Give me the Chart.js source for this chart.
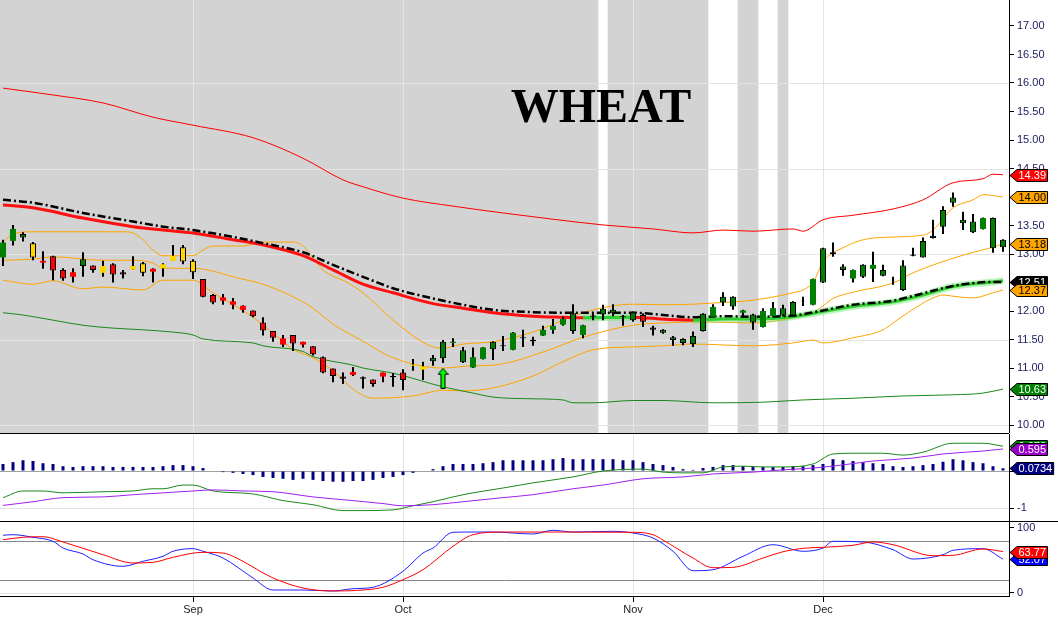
<!DOCTYPE html>
<html>
<head>
<meta charset="utf-8">
<script src="https://cdn.jsdelivr.net/npm/chart.js@4.4.1/dist/chart.umd.min.js"></script>
<style>
  html, body { margin: 0; padding: 0; background: #fff; }
  #wrap { position: relative; width: 1058px; height: 621px; overflow: hidden; }
  canvas { position: absolute; left: 0; }
  .rule { position: absolute; left: 0; height: 1px; background: #000; }
  #title { position: absolute; left: 501px; width: 200px; top: 82px; text-align: center;
           font: bold 48px "Liberation Serif", "Times New Roman", serif; line-height: 48px; color: #000; }
</style>
</head>
<body>
<div id="wrap">
  <canvas id="price" width="1058" height="433" style="top:0"></canvas>
  <canvas id="macd" width="1058" height="87" style="top:434px"></canvas>
  <canvas id="stoch" width="1058" height="99" style="top:522px"></canvas>
  <div class="rule" style="top:433px;width:1009px"></div>
  <div class="rule" style="top:521px;width:1058px"></div>
  <div id="title">WHEAT</div>
</div>
<script>
// x axis: one slot per trading day, 0..100
const months = ['Sep', 'Oct', 'Nov', 'Dec'];
const monthIdx = [19, 40, 63, 82];
const priceTicks = [10, 10.5, 11, 11.5, 12, 12.5, 13, 13.5, 14, 14.5, 15, 15.5, 16, 16.5, 17];
const priceGrid = [10, 11.5, 13, 14.5, 16];
const macdTicks = [-1, 0];
const stochTicks = [0, 100];

// daily candles
const open = [12.94,13.23,13.35,13.19,12.85,12.96,12.72,12.60,12.91,12.80,
  12.67,12.82,12.68,12.73,12.84,12.69,12.75,12.88,13.12,12.88,
  12.56,12.28,12.18,12.11,12.02,12.01,11.80,11.65,11.41,11.58,
  11.41,11.38,11.19,10.99,10.85,10.88,10.84,10.80,10.85,10.86,
  10.92,11.04,10.97,11.18,11.46,11.44,11.31,11.01,11.16,11.46,
  11.40,11.32,11.54,11.49,11.57,11.67,11.76,11.96,11.58,11.92,
  12.04,12.02,11.91,11.98,11.93,11.71,11.67,11.54,11.51,11.56,
  11.95,11.90,12.25,12.25,11.97,11.94,11.72,11.91,12.05,12.16,
  12.18,12.11,13.10,13.03,12.78,12.57,12.81,12.74,12.72,12.55,
  12.80,12.99,13.23,13.32,13.77,13.99,13.60,13.57,13.44,13.63,
  13.25];
const high = [13.25,13.51,13.38,13.21,13.05,12.97,12.75,12.75,13.03,12.80,
  12.88,12.84,12.72,12.96,12.86,12.75,12.84,13.16,13.16,12.91,
  12.56,12.30,12.30,12.23,12.10,12.01,11.89,11.65,11.58,11.58,
  11.46,11.38,11.20,10.99,10.92,11.02,10.85,10.80,10.92,10.91,
  10.98,11.16,11.11,11.23,11.49,11.52,11.37,11.36,11.37,11.47,
  11.56,11.63,11.67,11.55,11.74,11.86,11.90,12.12,11.76,11.96,
  12.11,12.12,11.93,11.99,11.96,11.74,11.68,11.56,11.52,11.64,
  11.96,12.12,12.33,12.26,12.02,11.95,12.05,12.16,12.11,12.17,
  12.25,12.57,13.11,13.20,12.82,12.73,12.82,13.04,12.81,12.60,
  12.89,13.11,13.29,13.60,13.84,14.08,13.74,13.70,13.64,13.64,
  13.26];
const low = [12.79,13.15,13.22,12.89,12.74,12.54,12.53,12.50,12.60,12.67,
  12.60,12.50,12.57,12.73,12.61,12.50,12.60,12.88,12.82,12.56,
  12.24,12.12,12.11,12.03,11.97,11.89,11.57,11.46,11.37,11.30,
  11.36,11.22,10.91,10.75,10.72,10.86,10.64,10.67,10.75,10.67,
  10.61,10.95,10.79,11.04,11.09,11.37,11.09,11.00,11.15,11.14,
  11.30,11.31,11.37,11.39,11.56,11.60,11.74,11.60,11.52,11.84,
  11.84,11.91,11.74,11.81,11.72,11.57,11.60,11.39,11.40,11.37,
  11.64,11.89,12.09,12.02,11.88,11.67,11.71,11.90,11.91,11.91,
  12.09,12.10,12.49,12.95,12.62,12.50,12.58,12.51,12.61,12.46,
  12.35,12.96,12.94,13.27,13.35,13.83,13.42,13.37,13.43,13.02,
  13.04];
const close = [13.20,13.44,13.29,12.94,12.88,12.71,12.57,12.68,12.79,12.72,
  12.79,12.64,12.64,12.79,12.67,12.74,12.82,12.97,12.87,12.68,
  12.25,12.15,12.24,12.17,12.09,11.91,11.66,11.53,11.52,11.43,
  11.46,11.24,10.92,10.86,10.81,10.93,10.81,10.72,10.92,10.84,
  10.79,11.06,11.03,11.12,11.17,11.46,11.10,11.19,11.36,11.33,
  11.38,11.62,11.52,11.47,11.67,11.74,11.86,11.65,11.75,11.90,
  11.94,11.96,11.89,11.84,11.81,11.67,11.62,11.49,11.44,11.42,
  11.65,12.07,12.15,12.08,12.01,11.80,12.00,12.05,11.92,11.92,
  12.17,12.56,12.50,13.00,12.72,12.72,12.60,12.81,12.62,12.54,
  12.37,12.97,12.94,13.28,13.48,13.90,13.54,13.38,13.63,13.10,
  13.12];
// trend colour of each candle: g green, r red, y yellow
const candleTone = ['gggyrrrrgr', 'yrryyryyyy', 'rrrrrrrrrr', 'rrrrrrrrrr', 'ryyggggggg',
  'gggggggggg', 'ggggrggggg', 'gggggggggg', 'gggggggggg', 'gggggggggg', 'g'].join('').split('');
// days with grey background
const shadedSpans = [[0, 59], [61, 70], [74, 75], [78, 78]];
// buy signal arrow
const signalIdx = [44];
const signalPrice = [10.82];

// overlays [day, value]
const envUpper = [[0,15.91],[5,15.79],[10,15.65],[15,15.40],[19,15.26],[25,15.04],[30,14.68],[34,14.30],[36,14.18],[40,13.98],[45,13.84],[50,13.72],[55,13.61],[60,13.51],[65,13.44],[69,13.37],[72,13.42],[75,13.40],[79,13.44],[80,13.40],[82,13.60],[85,13.68],[89,13.79],[92,13.95],[95,14.25],[98,14.32],[99,14.40],[100,14.39]];
const envLower = [[0,11.97],[2,11.93],[5,11.84],[8,11.75],[11,11.70],[14,11.67],[17,11.63],[19,11.58],[20,11.51],[25,11.44],[26,11.39],[30,11.29],[31,11.20],[35,11.05],[36,11.00],[39,10.91],[44,10.67],[47,10.56],[49,10.49],[53,10.46],[56,10.44],[57,10.39],[59,10.39],[63,10.43],[66,10.43],[71,10.39],[76,10.40],[80,10.44],[85,10.47],[90,10.51],[95,10.53],[98,10.56],[100,10.63]];
const bbUpper = [[0,13.21],[1,13.35],[3,13.39],[6,13.39],[9,13.39],[12,13.39],[13,13.37],[14,13.25],[15,13.07],[16,12.97],[19,12.97],[20,13.07],[21,13.14],[24,13.14],[26,13.21],[29,13.21],[30,13.14],[31,12.93],[32,12.72],[33,12.61],[34,12.54],[36,12.32],[39,11.84],[43,11.37],[44,11.35],[46,11.42],[49,11.46],[53,11.63],[56,11.84],[58,11.97],[61,12.09],[63,12.12],[66,12.11],[69,12.12],[71,12.14],[75,12.19],[79,12.32],[80,12.37],[81,12.50],[82,12.86],[84,13.11],[87,13.28],[92,13.33],[93,13.42],[95,13.81],[97,13.95],[98,14.04],[100,14.00]];
const bbMid = [[0,12.89],[3,12.91],[5,12.95],[10,12.89],[13,12.89],[15,12.84],[16,12.75],[19,12.75],[21,12.70],[23,12.60],[26,12.47],[29,12.25],[31,12.05],[33,11.77],[36,11.47],[39,11.18],[44,11.00],[47,11.04],[49,11.05],[54,11.28],[58,11.54],[63,11.75],[66,11.79],[70,11.81],[75,11.79],[79,11.88],[81,11.97],[82,12.09],[83,12.22],[85,12.33],[89,12.49],[91,12.67],[96,12.98],[99,13.12],[100,13.18]];
const bbLower = [[0,12.54],[3,12.47],[5,12.53],[8,12.39],[10,12.42],[14,12.37],[16,12.54],[19,12.54],[21,12.32],[23,12.11],[25,11.89],[27,11.61],[29,11.33],[31,11.18],[33,10.95],[35,10.63],[37,10.47],[41,10.51],[44,10.61],[46,10.60],[49,10.65],[53,10.86],[56,11.11],[59,11.32],[63,11.37],[66,11.39],[69,11.42],[75,11.39],[79,11.44],[81,11.49],[82,11.44],[85,11.53],[88,11.67],[89,11.79],[91,12.03],[93,12.23],[94,12.28],[95,12.26],[97,12.23],[99,12.32],[100,12.37]];
const trendMa = [[0,13.86],[3,13.81],[8,13.63],[13,13.48],[16,13.42],[19,13.37],[23,13.25],[26,13.16],[30,12.97],[33,12.72],[36,12.47],[39,12.32],[43,12.13],[46,12.05],[49,11.97],[53,11.91],[56,11.89],[58,11.88],[63,11.89],[64,11.88],[69,11.84],[72,11.86],[75,11.86],[79,11.90],[82,11.99],[85,12.08],[89,12.16],[92,12.28],[95,12.43],[99,12.51],[100,12.53]];
const slowMa = [[0,13.95],[3,13.90],[8,13.72],[13,13.57],[16,13.48],[19,13.42],[23,13.30],[26,13.19],[30,13.03],[33,12.81],[36,12.60],[39,12.40],[43,12.22],[46,12.11],[49,12.02],[53,11.98],[56,11.97],[59,11.97],[63,11.97],[66,11.93],[69,11.89],[72,11.91],[75,11.90],[79,11.92],[82,12.01],[85,12.11],[89,12.18],[92,12.31],[95,12.44],[99,12.51],[100,12.51]];

// MACD
const macdHist = [0.19,0.24,0.29,0.27,0.21,0.19,0.13,0.11,0.13,0.13,
  0.13,0.11,0.11,0.11,0.11,0.11,0.13,0.16,0.16,0.13,
  0.08,0,-0.03,-0.05,-0.08,-0.11,-0.16,-0.19,-0.21,-0.24,
  -0.21,-0.24,-0.27,-0.29,-0.29,-0.27,-0.27,-0.24,-0.19,-0.16,
  -0.11,-0.05,0,0.05,0.13,0.19,0.19,0.19,0.21,0.24,
  0.29,0.29,0.29,0.29,0.29,0.32,0.35,0.32,0.32,0.32,
  0.32,0.32,0.29,0.29,0.24,0.19,0.16,0.11,0.05,0.03,
  0.08,0.11,0.16,0.16,0.13,0.11,0.11,0.11,0.11,0.13,
  0.13,0.16,0.19,0.32,0.29,0.27,0.24,0.21,0.19,0.13,
  0.11,0.13,0.16,0.19,0.25,0.32,0.29,0.24,0.21,0.13,
  0.0734];
const macdLine = [[0,-0.72],[2,-0.54],[4,-0.54],[6,-0.59],[10,-0.56],[13,-0.54],[15,-0.48],[16,-0.48],[18,-0.38],[19,-0.38],[21,-0.54],[25,-0.62],[28,-0.80],[31,-0.91],[34,-1.07],[36,-1.07],[39,-1.05],[41,-0.94],[43,-0.83],[45,-0.70],[47,-0.59],[50,-0.46],[53,-0.32],[57,-0.16],[60,0.00],[64,0.05],[66,-0.03],[68,-0.05],[70,-0.05],[72,0.11],[74,0.13],[76,0.11],[78,0.11],[81,0.19],[83,0.46],[85,0.48],[88,0.48],[90,0.43],[92,0.51],[95,0.75],[98,0.75],[100,0.67]];
const signalLine = [[0,-0.93],[3,-0.83],[6,-0.72],[10,-0.70],[13,-0.64],[16,-0.59],[19,-0.54],[21,-0.51],[24,-0.54],[27,-0.56],[31,-0.70],[35,-0.80],[38,-0.88],[40,-0.94],[43,-0.91],[46,-0.83],[50,-0.72],[53,-0.64],[57,-0.48],[60,-0.38],[64,-0.21],[68,-0.16],[71,-0.08],[75,-0.03],[78,0.03],[81,0.08],[83,0.13],[87,0.27],[91,0.35],[94,0.46],[98,0.54],[100,0.595]];

// stochastic
const stochK = [[0,88.8],[1,89.7],[3,85.7],[5,79.5],[6,69.2],[8,60.0],[9,51.2],[12,41.1],[14,48.8],[16,56.5],[17,64.2],[19,68.2],[20,64.2],[22,53.8],[25,23.1],[27,4.6],[30,4.6],[33,3.1],[35,6.6],[37,8.8],[40,33.4],[42,61.5],[43,69.2],[45,93.4],[47,93.8],[49,93.8],[53,90.8],[55,96.5],[57,93.8],[61,94.9],[63,92.3],[65,84.6],[67,64.2],[69,34.3],[71,35.8],[74,56.5],[77,74.3],[80,64.2],[82,69.2],[83,79.5],[86,78.5],[89,66.6],[91,52.3],[94,58.9],[95,65.7],[98,68.2],[100,52.07]];
const stochD = [[0,82.0],[2,85.7],[4,86.6],[6,78.5],[10,58.9],[13,46.2],[15,47.2],[17,54.9],[20,62.6],[22,61.5],[23,56.5],[27,23.1],[30,7.7],[33,3.1],[36,4.6],[38,8.8],[40,20.5],[42,35.8],[45,71.8],[47,89.7],[50,93.8],[63,93.4],[65,89.7],[66,81.5],[69,53.8],[71,38.9],[73,39.5],[76,53.8],[78,63.5],[80,68.8],[82,70.3],[85,73.4],[87,78.5],[89,74.3],[93,57.4],[95,58.0],[98,67.7],[100,63.77]];

Chart.defaults.font.family = '"Liberation Sans", Arial, sans-serif';
Chart.defaults.font.size = 11;
Chart.defaults.animation = false;
Chart.defaults.events = [];
Chart.defaults.plugins.legend.display = false;
Chart.defaults.plugins.tooltip.enabled = false;

const GRID = '#e3e3e3';
const AXIS_TEXT = '#202060';
const toneColor = { g: '#008000', r: '#ff0000', y: '#ffd700' };
const days = open.map((_, i) => i);
const pts = arr => arr.map(([x, y]) => ({ x, y }));
const last = arr => arr[arr.length - 1][1];

const hiddenX = () => ({ type: 'linear', min: -0.3, max: 100.6, offset: false, display: false });

function rightAxis(min, max, ticks, fmt) {
  return {
    position: 'right', min, max,
    afterBuildTicks: s => { s.ticks = ticks.map(v => ({ value: v })); },
    afterFit: s => { s.width = 49; s.paddingTop = 0; s.paddingBottom = 0; },
    ticks: { callback: fmt, color: AXIS_TEXT, padding: 3 },
    grid: { drawOnChartArea: false, tickLength: 5, tickColor: '#000' },
    border: { color: '#000' }
  };
}

function drawGuides(chart, levels) {
  const { ctx, chartArea: a, scales } = chart;
  ctx.save();
  ctx.lineWidth = 1;
  ctx.strokeStyle = GRID;
  monthIdx.forEach(i => {
    const x = Math.round(scales.x.getPixelForValue(i)) + 0.5;
    ctx.beginPath(); ctx.moveTo(x, a.top); ctx.lineTo(x, a.bottom); ctx.stroke();
  });
  levels.forEach(l => {
    const y = Math.round(scales.y.getPixelForValue(l.v)) + 0.5;
    ctx.strokeStyle = l.color;
    ctx.beginPath(); ctx.moveTo(a.left, y); ctx.lineTo(a.right, y); ctx.stroke();
  });
  ctx.restore();
}

function tagPlugin(tags) {
  return {
    id: 'tags',
    afterDraw(chart) {
      const { ctx } = chart;
      const s = chart.scales.y;
      ctx.save();
      ctx.font = '11px "Liberation Sans", Arial, sans-serif';
      ctx.textBaseline = 'middle';
      tags.forEach(t => {
        const y = Math.round(s.getPixelForValue(t.v));
        const w = ctx.measureText(t.text).width;
        const x0 = s.left + 1, x1 = x0 + 7, x2 = x1 + w + 3;
        ctx.beginPath();
        ctx.moveTo(x0, y + 0.5);
        ctx.lineTo(x1, y - 5.5); ctx.lineTo(x2, y - 5.5);
        ctx.lineTo(x2, y + 6.5); ctx.lineTo(x1, y + 6.5);
        ctx.closePath();
        ctx.fillStyle = t.bg; ctx.fill();
        ctx.strokeStyle = '#000'; ctx.lineWidth = 1; ctx.stroke();
        ctx.fillStyle = t.fg;
        ctx.fillText(t.text, x1 + 1.5, y + 1);
      });
      ctx.restore();
    }
  };
}

function thinLine(data, color, order) {
  return { type: 'line', data: pts(data), borderColor: color, borderWidth: 1, pointRadius: 0,
           cubicInterpolationMode: 'monotone', order };
}

function makeArrow() {
  const c = document.createElement('canvas');
  c.width = 11; c.height = 21;
  const g = c.getContext('2d');
  g.beginPath();
  g.moveTo(5.5, 0.5); g.lineTo(10.5, 6.5); g.lineTo(7.5, 6.5); g.lineTo(7.5, 20.5);
  g.lineTo(3.5, 20.5); g.lineTo(3.5, 6.5); g.lineTo(0.5, 6.5); g.closePath();
  g.fillStyle = '#00ff00'; g.fill();
  g.strokeStyle = '#000'; g.lineWidth = 1; g.stroke();
  return c;
}

const shadeData = [];
shadedSpans.forEach(([a, b]) => { for (let i = a; i <= b; i++) shadeData.push({ x: i, y: 1 }); });
const rising = ctx => ctx.p1.parsed.y >= ctx.p0.parsed.y;
const baseLayout = { padding: 0, autoPadding: false };

// price panel
new Chart(document.getElementById('price'), {
  type: 'bar',
  data: {
    datasets: [
      { label: 'shade', type: 'bar', data: shadeData, yAxisID: 'yShade', backgroundColor: '#d3d3d3',
        barPercentage: 1, categoryPercentage: 1, grouped: false, order: 10 },
      thinLine(envUpper, '#ff0000', 8),
      thinLine(envLower, '#1a8a1a', 8),
      thinLine(bbUpper, '#ffa500', 8),
      thinLine(bbMid, '#ffa500', 8),
      thinLine(bbLower, '#ffa500', 8),
      { type: 'line', data: pts(trendMa), borderWidth: 7, pointRadius: 0, cubicInterpolationMode: 'monotone',
        segment: { borderColor: c => rising(c) ? 'rgba(110,230,110,0.45)' : 'rgba(0,0,0,0)' }, order: 7 },
      { type: 'line', data: pts(trendMa), borderWidth: 3, pointRadius: 0, cubicInterpolationMode: 'monotone',
        segment: { borderColor: c => rising(c) ? '#2fcf2f' : '#ff1010' }, order: 6 },
      { type: 'line', data: pts(slowMa), borderColor: '#000', borderWidth: 2.5, borderDash: [8, 3, 2, 3],
        pointRadius: 0, cubicInterpolationMode: 'monotone', order: 5 },
      { type: 'bar', data: days.map(i => ({ x: i, y: [low[i], high[i]] })), backgroundColor: '#000',
        barThickness: 2, grouped: false, inflateAmount: 0, order: 3 },
      { type: 'bar', data: days.map(i => ({ x: i, y: [open[i], close[i]] })),
        backgroundColor: c => toneColor[candleTone[c.dataIndex]],
        borderColor: '#000',
        borderWidth: c => close[c.dataIndex] < open[c.dataIndex] ? 1 : 0,
        borderSkipped: false, barThickness: 6, grouped: false, inflateAmount: 0, order: 2 },
      { type: 'scatter', data: signalIdx.map((x, k) => ({ x, y: signalPrice[k] })),
        pointStyle: makeArrow(), pointRadius: 10, order: 1 }
    ]
  },
  options: {
    responsive: false, maintainAspectRatio: false,
    layout: baseLayout,
    scales: {
      x: hiddenX(),
      y: rightAxis(9.86, 17.456, priceTicks, v => v.toFixed(2)),
      yShade: { display: false, min: 0, max: 1 }
    }
  },
  plugins: [
    { id: 'guides', afterDatasetDraw(chart, args) {
        if (args.index === 0) drawGuides(chart, priceGrid.map(v => ({ v, color: GRID })));
      } },
    tagPlugin([
      { v: last(envUpper), text: last(envUpper).toFixed(2), bg: '#ff0000', fg: '#fff' },
      { v: last(bbUpper), text: last(bbUpper).toFixed(2), bg: '#ffa500', fg: '#000' },
      { v: last(bbMid), text: last(bbMid).toFixed(2), bg: '#ffa500', fg: '#000' },
      { v: last(slowMa), text: last(slowMa).toFixed(2), bg: '#000', fg: '#fff' },
      { v: last(bbLower), text: last(bbLower).toFixed(2), bg: '#ffa500', fg: '#000' },
      { v: last(envLower), text: last(envLower).toFixed(2), bg: '#008000', fg: '#fff' }
    ])
  ]
});

// MACD panel
new Chart(document.getElementById('macd'), {
  type: 'bar',
  data: {
    datasets: [
      { type: 'bar', data: days.map(i => ({ x: i, y: macdHist[i] })), backgroundColor: '#000080',
        barThickness: 3, grouped: false, inflateAmount: 0, order: 3 },
      thinLine(macdLine, '#1a8a1a', 2),
      thinLine(signalLine, '#a020f0', 1)
    ]
  },
  options: {
    responsive: false, maintainAspectRatio: false,
    layout: baseLayout,
    scales: { x: hiddenX(), y: rightAxis(-1.351, 1.0, macdTicks, v => String(v)) }
  },
  plugins: [
    { id: 'guides', beforeDatasetsDraw(chart) {
        drawGuides(chart, [{ v: -1, color: GRID }, { v: 0, color: '#a0a0a0' }]);
      } },
    tagPlugin([
      { v: last(macdLine), text: last(macdLine).toFixed(3), bg: '#008000', fg: '#fff' },
      { v: last(signalLine), text: String(last(signalLine)), bg: '#9900cc', fg: '#fff' },
      { v: macdHist[macdHist.length - 1], text: String(macdHist[macdHist.length - 1]), bg: '#000080', fg: '#fff' }
    ])
  ]
});

// stochastic panel
new Chart(document.getElementById('stoch'), {
  type: 'line',
  data: {
    datasets: [
      thinLine(stochK, '#2020ff', 2),
      thinLine(stochD, '#ff0000', 1)
    ]
  },
  options: {
    responsive: false, maintainAspectRatio: false,
    layout: baseLayout,
    scales: {
      x: {
        type: 'linear', min: -0.3, max: 100.6, offset: false, position: 'bottom',
        afterBuildTicks: s => { s.ticks = monthIdx.map(v => ({ value: v })); },
        afterFit: s => { s.height = 25; s.paddingLeft = 0; s.paddingRight = 0; },
        ticks: { callback: v => months[monthIdx.indexOf(v)], autoSkip: false, maxRotation: 0, color: '#222', padding: 1 },
        grid: { drawOnChartArea: false, tickLength: 6, tickColor: '#000' },
        border: { color: '#000' }
      },
      y: rightAxis(-4.62, 109.23, stochTicks, v => String(v))
    }
  },
  plugins: [
    { id: 'guides', beforeDatasetsDraw(chart) {
        drawGuides(chart, [{ v: 0, color: GRID }, { v: 20, color: '#888' }, { v: 80, color: '#888' }]);
      } },
    tagPlugin([
      { v: last(stochK), text: last(stochK).toFixed(2), bg: '#0000ff', fg: '#fff' },
      { v: last(stochD), text: last(stochD).toFixed(2), bg: '#ff0000', fg: '#fff' }
    ])
  ]
});
</script>
</body>
</html>
